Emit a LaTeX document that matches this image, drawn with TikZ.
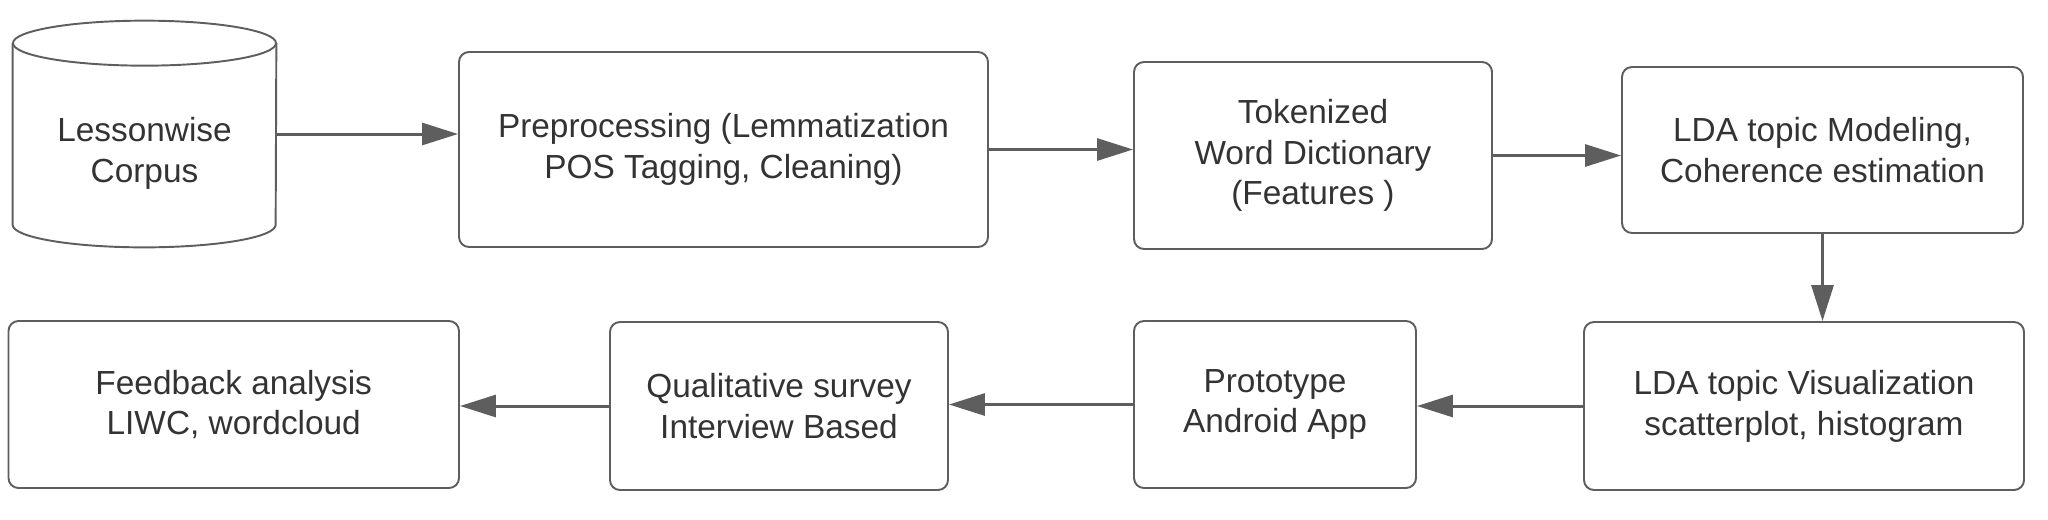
\documentclass[tikz,border=0pt]{standalone}
\usepackage{fontspec}
\setmainfont{Liberation Sans}
\usetikzlibrary{arrows.meta}
\definecolor{linegray}{HTML}{5E5E5E}
\definecolor{textgray}{HTML}{333333}
\begin{document}
\begin{tikzpicture}[box/.style={draw=linegray, line width=1.1pt, rounded corners=0.2cm, align=center, text=textgray, font=\fontsize{19}{23.2}\selectfont}, flow/.style={draw=linegray, line width=1.7pt, -{Triangle[length=0.72cm, width=0.44cm]}}]
	\useasboundingbox (0,0) rectangle (40.96,-10.38);
	\node[minimum width=5.26cm, minimum height=4.52cm] (corpus) at (2.89,-2.68) {};
	\node[align=center, text=textgray, font=\fontsize{19}{23.2}\selectfont] (corpustext) at (2.89,-3.07) {Lessonwise\\Corpus};
	\draw[linegray, line width=1.1pt] ([yshift=-0.45cm]corpus.north) ellipse (2.63cm and 0.45cm);
	\draw[linegray, line width=1.1pt] ([yshift=-0.45cm]corpus.north west) -- ([yshift=0.45cm]corpus.south west) arc (180:360:2.63cm and 0.45cm) -- ([yshift=-0.45cm]corpus.north east);
	\node[box, minimum width=10.58cm, minimum height=3.90cm] (pre) at (14.47,-2.99) {Preprocessing (Lemmatization\\POS Tagging, Cleaning)};
	\node[box, minimum width=7.16cm, minimum height=3.74cm] (tok) at (26.26,-3.11) {Tokenized\\Word Dictionary\\(Features )};
	\node[box, minimum width=8.02cm, minimum height=3.32cm] (mod) at (36.45,-3.00) {LDA topic Modeling,\\Coherence estimation};
	\node[box, minimum width=8.80cm, minimum height=3.36cm] (viz) at (36.08,-8.12) {LDA topic Visualization\\scatterplot, histogram};
	\node[box, minimum width=5.64cm, minimum height=3.34cm] (proto) at (25.50,-8.09) {Prototype\\Android App};
	\node[box, minimum width=6.76cm, minimum height=3.36cm] (qual) at (15.58,-8.12) {Qualitative survey\\Interview Based};
	\node[box, minimum width=9.01cm, minimum height=3.34cm] (feed) at (4.675,-8.09) {Feedback analysis\\LIWC, wordcloud};
	\draw[flow] (corpus.east) -- (corpus.east -| pre.west);
	\draw[flow] (pre.east) -- (pre.east -| tok.west);
	\draw[flow] (tok.east) -- (tok.east -| mod.west);
	\draw[flow] (mod.south) -- (mod.south |- viz.north);
	\draw[flow] (viz.west) -- (viz.west -| proto.east);
	\draw[flow] (proto.west) -- (proto.west -| qual.east);
	\draw[flow] (qual.west) -- (qual.west -| feed.east);
\end{tikzpicture}
\end{document}
